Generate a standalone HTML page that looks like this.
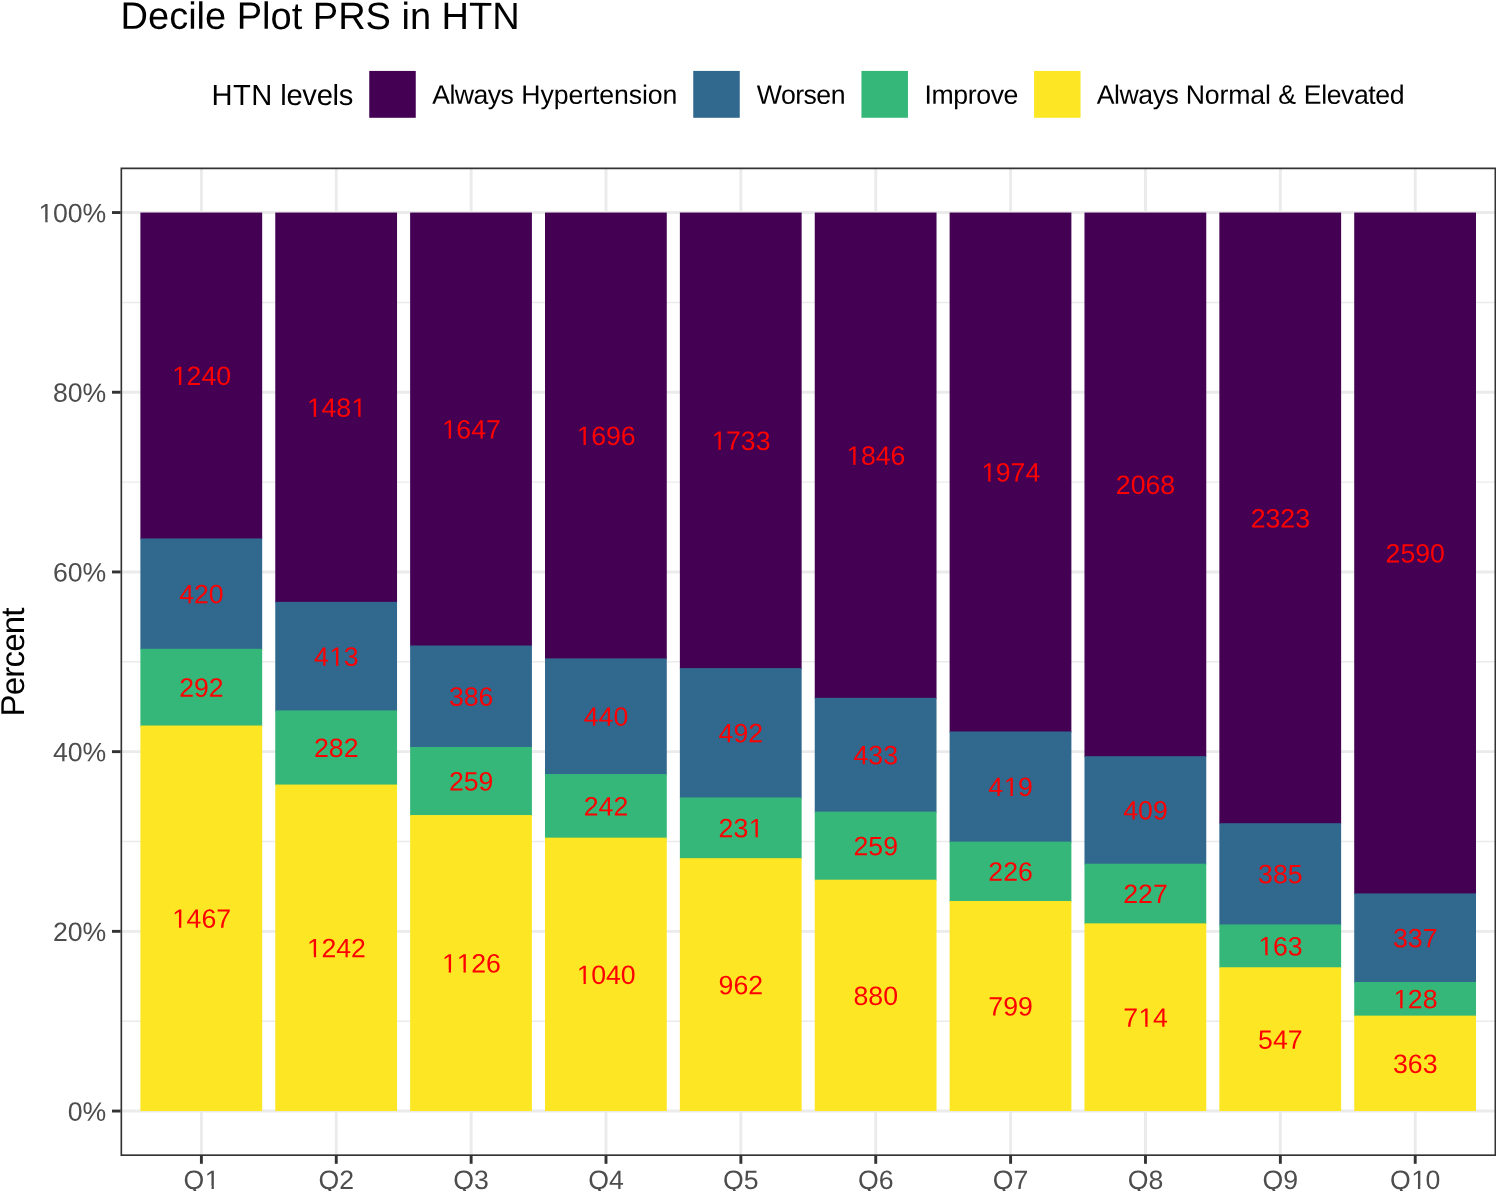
<!DOCTYPE html>
<html><head><meta charset="utf-8"><title>Decile Plot PRS in HTN</title>
<style>html,body{margin:0;padding:0;background:#fff}body{width:1496px;height:1191px;overflow:hidden}svg{display:block;will-change:transform}text{font-family:"Liberation Sans",sans-serif}</style></head><body>
<svg width="1496" height="1191" viewBox="0 0 1496 1191">
<rect x="0" y="0" width="1496" height="1191" fill="#ffffff"/>
<defs><clipPath id="pc"><rect x="120.5" y="167.58" width="1375.65" height="988.42"/></clipPath></defs>
<g clip-path="url(#pc)">
<g stroke="#EBEBEB" stroke-width="1.45" fill="none">
<line x1="120.5" x2="1496.15" y1="1021.2" y2="1021.2"/>
<line x1="120.5" x2="1496.15" y1="841.5" y2="841.5"/>
<line x1="120.5" x2="1496.15" y1="661.8" y2="661.8"/>
<line x1="120.5" x2="1496.15" y1="482.1" y2="482.1"/>
<line x1="120.5" x2="1496.15" y1="302.4" y2="302.4"/>
</g>
<g stroke="#EBEBEB" stroke-width="2.9" fill="none">
<line x1="120.5" x2="1496.15" y1="1111.05" y2="1111.05"/>
<line x1="120.5" x2="1496.15" y1="931.35" y2="931.35"/>
<line x1="120.5" x2="1496.15" y1="751.65" y2="751.65"/>
<line x1="120.5" x2="1496.15" y1="571.95" y2="571.95"/>
<line x1="120.5" x2="1496.15" y1="392.25" y2="392.25"/>
<line x1="120.5" x2="1496.15" y1="212.55" y2="212.55"/>
<line x1="201.39" x2="201.39" y1="167.58" y2="1156"/>
<line x1="336.26" x2="336.26" y1="167.58" y2="1156"/>
<line x1="471.13" x2="471.13" y1="167.58" y2="1156"/>
<line x1="606" x2="606" y1="167.58" y2="1156"/>
<line x1="740.87" x2="740.87" y1="167.58" y2="1156"/>
<line x1="875.74" x2="875.74" y1="167.58" y2="1156"/>
<line x1="1010.61" x2="1010.61" y1="167.58" y2="1156"/>
<line x1="1145.48" x2="1145.48" y1="167.58" y2="1156"/>
<line x1="1280.35" x2="1280.35" y1="167.58" y2="1156"/>
<line x1="1415.22" x2="1415.22" y1="167.58" y2="1156"/>
</g>
<rect x="140.39" y="212.55" width="121.78" height="326.87" fill="#440154"/>
<rect x="140.39" y="538.42" width="121.78" height="111.37" fill="#31688E"/>
<rect x="140.39" y="648.79" width="121.78" height="77.74" fill="#35B779"/>
<rect x="140.39" y="725.53" width="121.78" height="385.52" fill="#FDE725"/>
<rect x="275.26" y="212.55" width="121.78" height="390.31" fill="#440154"/>
<rect x="275.26" y="601.86" width="121.78" height="109.57" fill="#31688E"/>
<rect x="275.26" y="710.43" width="121.78" height="75.13" fill="#35B779"/>
<rect x="275.26" y="784.56" width="121.78" height="326.49" fill="#FDE725"/>
<rect x="410.13" y="212.55" width="121.78" height="433.95" fill="#440154"/>
<rect x="410.13" y="645.5" width="121.78" height="102.47" fill="#31688E"/>
<rect x="410.13" y="746.97" width="121.78" height="69.08" fill="#35B779"/>
<rect x="410.13" y="815.05" width="121.78" height="296" fill="#FDE725"/>
<rect x="545" y="212.55" width="121.78" height="446.83" fill="#440154"/>
<rect x="545" y="658.38" width="121.78" height="116.66" fill="#31688E"/>
<rect x="545" y="774.05" width="121.78" height="64.62" fill="#35B779"/>
<rect x="545" y="837.66" width="121.78" height="273.39" fill="#FDE725"/>
<rect x="679.87" y="212.55" width="121.78" height="456.56" fill="#440154"/>
<rect x="679.87" y="668.11" width="121.78" height="130.33" fill="#31688E"/>
<rect x="679.87" y="797.44" width="121.78" height="61.72" fill="#35B779"/>
<rect x="679.87" y="858.17" width="121.78" height="252.88" fill="#FDE725"/>
<rect x="814.74" y="212.55" width="121.78" height="486.26" fill="#440154"/>
<rect x="814.74" y="697.81" width="121.78" height="114.82" fill="#31688E"/>
<rect x="814.74" y="811.64" width="121.78" height="69.08" fill="#35B779"/>
<rect x="814.74" y="879.72" width="121.78" height="231.33" fill="#FDE725"/>
<rect x="949.61" y="212.55" width="121.78" height="519.91" fill="#440154"/>
<rect x="949.61" y="731.46" width="121.78" height="111.14" fill="#31688E"/>
<rect x="949.61" y="841.61" width="121.78" height="60.41" fill="#35B779"/>
<rect x="949.61" y="901.01" width="121.78" height="210.04" fill="#FDE725"/>
<rect x="1084.48" y="212.55" width="121.78" height="544.62" fill="#440154"/>
<rect x="1084.48" y="756.17" width="121.78" height="108.52" fill="#31688E"/>
<rect x="1084.48" y="863.69" width="121.78" height="60.67" fill="#35B779"/>
<rect x="1084.48" y="923.36" width="121.78" height="187.69" fill="#FDE725"/>
<rect x="1219.35" y="212.55" width="121.78" height="611.65" fill="#440154"/>
<rect x="1219.35" y="823.2" width="121.78" height="102.21" fill="#31688E"/>
<rect x="1219.35" y="924.41" width="121.78" height="43.85" fill="#35B779"/>
<rect x="1219.35" y="967.26" width="121.78" height="143.79" fill="#FDE725"/>
<rect x="1354.22" y="212.55" width="121.78" height="681.84" fill="#440154"/>
<rect x="1354.22" y="893.39" width="121.78" height="89.59" fill="#31688E"/>
<rect x="1354.22" y="981.98" width="121.78" height="34.65" fill="#35B779"/>
<rect x="1354.22" y="1015.63" width="121.78" height="95.42" fill="#FDE725"/>
<g fill="#FF0000" font-size="26.67" style="font-kerning:none">
<g transform="translate(201.39 385.03) rotate(0.03)"><text x="-29.17 -14.83 0 14.83">1240</text><rect x="-28.13" y="-3" width="5.67" height="3.9" fill="#440154"/><rect x="-20.1" y="-3" width="5.47" height="3.9" fill="#440154"/></g>
<g transform="translate(201.39 603.15) rotate(0.03)"><text x="-22.25 -7.42 7.42">420</text></g>
<g transform="translate(201.39 696.71) rotate(0.03)"><text x="-22.25 -7.42 7.42">292</text></g>
<g transform="translate(201.39 927.84) rotate(0.03)"><text x="-29.17 -14.83 0 14.83">1467</text><rect x="-28.13" y="-3" width="5.67" height="3.9" fill="#FDE725"/><rect x="-20.1" y="-3" width="5.47" height="3.9" fill="#FDE725"/></g>
<g transform="translate(336.26 416.76) rotate(0.03)"><text x="-29.17 -14.83 0 15.33">1481</text><rect x="-28.13" y="-3" width="5.67" height="3.9" fill="#440154"/><rect x="-20.1" y="-3" width="5.47" height="3.9" fill="#440154"/><rect x="16.36" y="-3" width="5.67" height="3.9" fill="#440154"/><rect x="24.4" y="-3" width="5.47" height="3.9" fill="#440154"/></g>
<g transform="translate(336.26 665.7) rotate(0.03)"><text x="-22.25 -6.92 7.42">413</text><rect x="-5.88" y="-3" width="5.67" height="3.9" fill="#31688E"/><rect x="2.15" y="-3" width="5.47" height="3.9" fill="#31688E"/></g>
<g transform="translate(336.26 757.05) rotate(0.03)"><text x="-22.25 -7.42 7.42">282</text></g>
<g transform="translate(336.26 957.36) rotate(0.03)"><text x="-29.17 -14.83 0 14.83">1242</text><rect x="-28.13" y="-3" width="5.67" height="3.9" fill="#FDE725"/><rect x="-20.1" y="-3" width="5.47" height="3.9" fill="#FDE725"/></g>
<g transform="translate(471.13 438.58) rotate(0.03)"><text x="-29.17 -14.83 0 14.83">1647</text><rect x="-28.13" y="-3" width="5.67" height="3.9" fill="#440154"/><rect x="-20.1" y="-3" width="5.47" height="3.9" fill="#440154"/></g>
<g transform="translate(471.13 705.79) rotate(0.03)"><text x="-22.25 -7.42 7.42">386</text></g>
<g transform="translate(471.13 790.56) rotate(0.03)"><text x="-22.25 -7.42 7.42">259</text></g>
<g transform="translate(471.13 972.6) rotate(0.03)"><text x="-29.17 -14.33 0 14.83">1126</text><rect x="-28.13" y="-3" width="5.67" height="3.9" fill="#FDE725"/><rect x="-20.1" y="-3" width="5.47" height="3.9" fill="#FDE725"/><rect x="-13.3" y="-3" width="5.67" height="3.9" fill="#FDE725"/><rect x="-5.26" y="-3" width="5.47" height="3.9" fill="#FDE725"/></g>
<g transform="translate(606 445.02) rotate(0.03)"><text x="-29.17 -14.83 0 14.83">1696</text><rect x="-28.13" y="-3" width="5.67" height="3.9" fill="#440154"/><rect x="-20.1" y="-3" width="5.47" height="3.9" fill="#440154"/></g>
<g transform="translate(606 725.76) rotate(0.03)"><text x="-22.25 -7.42 7.42">440</text></g>
<g transform="translate(606 815.4) rotate(0.03)"><text x="-22.25 -7.42 7.42">242</text></g>
<g transform="translate(606 983.91) rotate(0.03)"><text x="-29.17 -14.83 0 14.83">1040</text><rect x="-28.13" y="-3" width="5.67" height="3.9" fill="#FDE725"/><rect x="-20.1" y="-3" width="5.47" height="3.9" fill="#FDE725"/></g>
<g transform="translate(740.87 449.88) rotate(0.03)"><text x="-29.17 -14.83 0 14.83">1733</text><rect x="-28.13" y="-3" width="5.67" height="3.9" fill="#440154"/><rect x="-20.1" y="-3" width="5.47" height="3.9" fill="#440154"/></g>
<g transform="translate(740.87 742.33) rotate(0.03)"><text x="-22.25 -7.42 7.42">492</text></g>
<g transform="translate(740.87 837.35) rotate(0.03)"><text x="-22.25 -7.42 7.92">231</text><rect x="8.95" y="-3" width="5.67" height="3.9" fill="#35B779"/><rect x="16.98" y="-3" width="5.47" height="3.9" fill="#35B779"/></g>
<g transform="translate(740.87 994.16) rotate(0.03)"><text x="-22.25 -7.42 7.42">962</text></g>
<g transform="translate(875.74 464.73) rotate(0.03)"><text x="-29.17 -14.83 0 14.83">1846</text><rect x="-28.13" y="-3" width="5.67" height="3.9" fill="#440154"/><rect x="-20.1" y="-3" width="5.47" height="3.9" fill="#440154"/></g>
<g transform="translate(875.74 764.28) rotate(0.03)"><text x="-22.25 -7.42 7.42">433</text></g>
<g transform="translate(875.74 855.23) rotate(0.03)"><text x="-22.25 -7.42 7.42">259</text></g>
<g transform="translate(875.74 1004.94) rotate(0.03)"><text x="-22.25 -7.42 7.42">880</text></g>
<g transform="translate(1010.61 481.56) rotate(0.03)"><text x="-29.17 -14.83 0 14.83">1974</text><rect x="-28.13" y="-3" width="5.67" height="3.9" fill="#440154"/><rect x="-20.1" y="-3" width="5.47" height="3.9" fill="#440154"/></g>
<g transform="translate(1010.61 796.08) rotate(0.03)"><text x="-22.25 -6.92 7.42">419</text><rect x="-5.88" y="-3" width="5.67" height="3.9" fill="#31688E"/><rect x="2.15" y="-3" width="5.47" height="3.9" fill="#31688E"/></g>
<g transform="translate(1010.61 880.86) rotate(0.03)"><text x="-22.25 -7.42 7.42">226</text></g>
<g transform="translate(1010.61 1015.58) rotate(0.03)"><text x="-22.25 -7.42 7.42">799</text></g>
<g transform="translate(1145.48 493.91) rotate(0.03)"><text x="-29.67 -14.83 0 14.83">2068</text></g>
<g transform="translate(1145.48 819.48) rotate(0.03)"><text x="-22.25 -7.42 7.42">409</text></g>
<g transform="translate(1145.48 903.07) rotate(0.03)"><text x="-22.25 -7.42 7.42">227</text></g>
<g transform="translate(1145.48 1026.75) rotate(0.03)"><text x="-22.25 -6.92 7.42">714</text><rect x="-5.88" y="-3" width="5.67" height="3.9" fill="#FDE725"/><rect x="2.15" y="-3" width="5.47" height="3.9" fill="#FDE725"/></g>
<g transform="translate(1280.35 527.43) rotate(0.03)"><text x="-29.67 -14.83 0 14.83">2323</text></g>
<g transform="translate(1280.35 883.36) rotate(0.03)"><text x="-22.25 -7.42 7.42">385</text></g>
<g transform="translate(1280.35 955.38) rotate(0.03)"><text x="-21.75 -7.42 7.42">163</text><rect x="-20.72" y="-3" width="5.67" height="3.9" fill="#35B779"/><rect x="-12.68" y="-3" width="5.47" height="3.9" fill="#35B779"/></g>
<g transform="translate(1280.35 1048.7) rotate(0.03)"><text x="-22.25 -7.42 7.42">547</text></g>
<g transform="translate(1415.22 562.52) rotate(0.03)"><text x="-29.67 -14.83 0 14.83">2590</text></g>
<g transform="translate(1415.22 947.24) rotate(0.03)"><text x="-22.25 -7.42 7.42">337</text></g>
<g transform="translate(1415.22 1008.35) rotate(0.03)"><text x="-21.75 -7.42 7.42">128</text><rect x="-20.72" y="-3" width="5.67" height="3.9" fill="#35B779"/><rect x="-12.68" y="-3" width="5.47" height="3.9" fill="#35B779"/></g>
<g transform="translate(1415.22 1072.89) rotate(0.03)"><text x="-22.25 -7.42 7.42">363</text></g>
</g>
<rect x="120.5" y="167.58" width="1375.65" height="988.42" fill="none" stroke="#333333" stroke-width="3.3"/>
</g>
<g stroke="#333333" stroke-width="2.9" fill="none">
<line x1="112" x2="120.7" y1="1111.05" y2="1111.05"/>
<line x1="112" x2="120.7" y1="931.35" y2="931.35"/>
<line x1="112" x2="120.7" y1="751.65" y2="751.65"/>
<line x1="112" x2="120.7" y1="571.95" y2="571.95"/>
<line x1="112" x2="120.7" y1="392.25" y2="392.25"/>
<line x1="112" x2="120.7" y1="212.55" y2="212.55"/>
<line x1="201.39" x2="201.39" y1="1155.8" y2="1163.8"/>
<line x1="336.26" x2="336.26" y1="1155.8" y2="1163.8"/>
<line x1="471.13" x2="471.13" y1="1155.8" y2="1163.8"/>
<line x1="606" x2="606" y1="1155.8" y2="1163.8"/>
<line x1="740.87" x2="740.87" y1="1155.8" y2="1163.8"/>
<line x1="875.74" x2="875.74" y1="1155.8" y2="1163.8"/>
<line x1="1010.61" x2="1010.61" y1="1155.8" y2="1163.8"/>
<line x1="1145.48" x2="1145.48" y1="1155.8" y2="1163.8"/>
<line x1="1280.35" x2="1280.35" y1="1155.8" y2="1163.8"/>
<line x1="1415.22" x2="1415.22" y1="1155.8" y2="1163.8"/>
</g>
<g fill="#4D4D4D" font-size="26.67" style="font-kerning:none">
<g transform="translate(106.25 1120.69) rotate(0.03)"><text x="-38.55 -23.71">0%</text></g>
<g transform="translate(106.25 940.99) rotate(0.03)"><text x="-53.38 -38.55 -23.71">20%</text></g>
<g transform="translate(106.25 761.29) rotate(0.03)"><text x="-53.38 -38.55 -23.71">40%</text></g>
<g transform="translate(106.25 581.59) rotate(0.03)"><text x="-53.38 -38.55 -23.71">60%</text></g>
<g transform="translate(106.25 401.89) rotate(0.03)"><text x="-53.38 -38.55 -23.71">80%</text></g>
<g transform="translate(106.25 222.19) rotate(0.03)"><text x="-67.71 -53.38 -38.55 -23.71">100%</text><rect x="-66.68" y="-3" width="5.67" height="3.9" fill="#ffffff"/><rect x="-58.64" y="-3" width="5.47" height="3.9" fill="#ffffff"/></g>
<g transform="translate(201.39 1188.9) rotate(0.03)"><text x="-17.79 3.46">Q1</text><rect x="4.49" y="-3" width="5.67" height="3.9" fill="#ffffff"/><rect x="12.52" y="-3" width="5.47" height="3.9" fill="#ffffff"/></g>
<g transform="translate(336.26 1188.9) rotate(0.03)"><text x="-17.79 2.96">Q2</text></g>
<g transform="translate(471.13 1188.9) rotate(0.03)"><text x="-17.79 2.96">Q3</text></g>
<g transform="translate(606 1188.9) rotate(0.03)"><text x="-17.79 2.96">Q4</text></g>
<g transform="translate(740.87 1188.9) rotate(0.03)"><text x="-17.79 2.96">Q5</text></g>
<g transform="translate(875.74 1188.9) rotate(0.03)"><text x="-17.79 2.96">Q6</text></g>
<g transform="translate(1010.61 1188.9) rotate(0.03)"><text x="-17.79 2.96">Q7</text></g>
<g transform="translate(1145.48 1188.9) rotate(0.03)"><text x="-17.79 2.96">Q8</text></g>
<g transform="translate(1280.35 1188.9) rotate(0.03)"><text x="-17.79 2.96">Q9</text></g>
<g transform="translate(1415.22 1188.9) rotate(0.03)"><text x="-25.2 -3.96 10.37">Q10</text><rect x="-2.93" y="-3" width="5.67" height="3.9" fill="#ffffff"/><rect x="5.11" y="-3" width="5.47" height="3.9" fill="#ffffff"/></g>
</g>
<text transform="translate(23.9 716.4) rotate(-89.97)" font-size="33" letter-spacing="-0.8" fill="#000">Percent</text>
<text transform="translate(120.6 28.8) rotate(0.03)" font-size="38" fill="#000">Decile Plot PRS in HTN</text>
<text transform="rotate(0.03 245.83 105)" y="105" font-size="29.17" fill="#000"><tspan x="211.47" letter-spacing="0.47">HTN</tspan> <tspan x="280.19" letter-spacing="-0.27">levels</tspan></text>
<rect x="369.25" y="70.93" width="46.5" height="46.86" fill="#440154"/>
<text transform="rotate(0.03 476.77 103.7)" y="103.7" font-size="26.67" fill="#000"><tspan x="432.18" letter-spacing="-0.54">Always</tspan> <tspan x="521.36" letter-spacing="-0.1">Hypertension</tspan></text>
<rect x="693.25" y="70.93" width="46.5" height="46.86" fill="#31688E"/>
<text transform="rotate(0.03 756.78 103.7)" y="103.7" font-size="26.67" fill="#000"><tspan x="756.78" letter-spacing="-0.53">Worsen</tspan></text>
<rect x="861.45" y="70.93" width="46.5" height="46.86" fill="#35B779"/>
<text transform="rotate(0.03 924.5 103.7)" y="103.7" font-size="26.67" fill="#000"><tspan x="924.5" letter-spacing="-0.4">Improve</tspan></text>
<rect x="1034.05" y="70.93" width="46.5" height="46.86" fill="#FDE725"/>
<text transform="rotate(0.03 1200.34 103.7)" y="103.7" font-size="26.67" fill="#000"><tspan x="1096.83" letter-spacing="-0.49">Always</tspan> <tspan x="1185.77" letter-spacing="-0.17">Normal</tspan> <tspan x="1278.14" letter-spacing="0">&amp;</tspan> <tspan x="1303.85" letter-spacing="-0.43">Elevated</tspan></text>
</svg></body></html>
